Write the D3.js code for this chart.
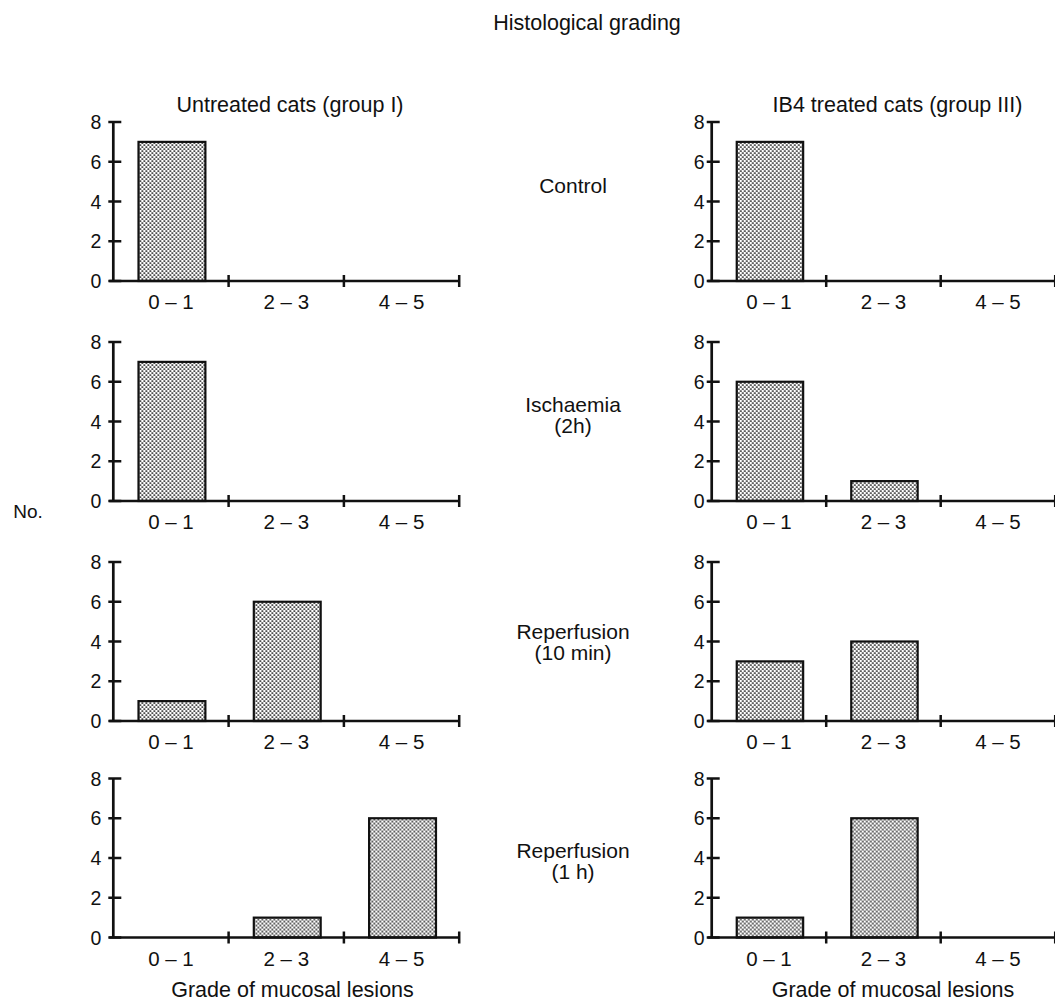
<!DOCTYPE html>
<html><head><meta charset="utf-8">
<script src="https://cdn.jsdelivr.net/npm/d3@7"></script>
<style>body{margin:0;background:#fff}svg{display:block}text{font-family:"Liberation Sans",Arial,Helvetica,sans-serif;fill:#111}</style>
</head><body>
<script>
const categories = ["0 \u2013 1", "2 \u2013 3", "4 \u2013 5"];
const yTicks = [0, 2, 4, 6, 8];
const conditions = [["Control"], ["Ischaemia", "(2h)"], ["Reperfusion", "(10 min)"], ["Reperfusion", "(1 h)"]];
const groupTitles = ["Untreated cats (group I)", "IB4 treated cats (group III)"];
const untreated = [[7, 0, 0], [7, 0, 0], [1, 6, 0], [0, 1, 6]];
const ib4treated = [[7, 0, 0], [6, 1, 0], [3, 4, 0], [1, 6, 0]];
const series = [untreated, ib4treated];

const W = 1055, H = 1005;
const svg = d3.select("body").append("svg").attr("width", W).attr("height", H);
const defs = svg.append("defs");
const pat = defs.append("pattern").attr("id", "dots").attr("patternUnits", "userSpaceOnUse")
  .attr("width", 4).attr("height", 4);
pat.append("rect").attr("width", 4).attr("height", 4).attr("fill", "#fff");
pat.append("rect").attr("x", 0.3).attr("y", 0.3).attr("width", 1.6).attr("height", 1.6).attr("fill", "#111");
pat.append("rect").attr("x", 2.3).attr("y", 2.3).attr("width", 1.6).attr("height", 1.6).attr("fill", "#111");

function label(x, y, txt, size, anchor) {
  return svg.append("text").attr("x", x).attr("y", y).attr("text-anchor", anchor || "middle")
    .attr("font-size", size).text(txt);
}

label(587, 30, "Histological grading", 21.5);

const panelX = [113.3, 711.7];
const bandW = [115.3, 114.5];
const zeroY = [281, 501, 721, 937.5];
const ph = 159;

const titleCX = [290, 897.5];
const bottomCX = [292.5, 893];
const yLabGap = [12, 7];

groupTitles.forEach((t, gi) => {
  label(titleCX[gi], 112, t, 21.5);
  label(bottomCX[gi], 997, "Grade of mucosal lesions", 21.5);
});

label(28, 518, "No.", 19);

const condY = [193, 412, 639, 858];
conditions.forEach((lines, ci) => {
  lines.forEach((l, li) => label(573, condY[ci] + li * 21, l, 21));
});

const y = d3.scaleLinear().domain([0, 8]).range([ph, 0]);

series.forEach((grp, gi) => {
  const x = d3.scaleBand().domain(categories).range([0, bandW[gi] * 3]).padding(0);
  grp.forEach((vals, ci) => {
    const g = svg.append("g").attr("transform", `translate(${panelX[gi]},${zeroY[ci] - ph})`);
    const bw = x.bandwidth() * 0.58;
    g.selectAll("rect.bar").data(vals.map((v, i) => ({c: categories[i], v})).filter(d => d.v > 0))
      .join("rect").attr("class", "bar")
      .attr("x", d => x(d.c) + (x.bandwidth() - bw) / 2 + 1)
      .attr("y", d => y(d.v))
      .attr("width", bw).attr("height", d => y(0) - y(d.v))
      .attr("fill", "url(#dots)").attr("stroke", "#111").attr("stroke-width", 2.2);
    // y axis
    g.append("line").attr("x1", 0).attr("x2", 0).attr("y1", y(8)).attr("y2", y(0)).attr("stroke", "#111").attr("stroke-width", 2.7);
    g.selectAll("line.yt").data(yTicks).join("line").attr("class", "yt")
      .attr("x1", -5).attr("x2", 8).attr("y1", d => y(d)).attr("y2", d => y(d))
      .attr("stroke", "#111").attr("stroke-width", 2.5);
    g.selectAll("text.yl").data(yTicks).join("text").attr("class", "yl")
      .attr("x", -yLabGap[gi]).attr("y", d => y(d) + 7).attr("text-anchor", "end").attr("font-size", 19.5).text(d => d);
    // x axis
    g.append("line").attr("x1", -4).attr("x2", x.range()[1]).attr("y1", y(0)).attr("y2", y(0)).attr("stroke", "#111").attr("stroke-width", 2.7);
    g.selectAll("line.xt").data(categories).join("line").attr("class", "xt")
      .attr("x1", d => x(d) + x.bandwidth()).attr("x2", d => x(d) + x.bandwidth())
      .attr("y1", y(0) - 6).attr("y2", y(0) + 6).attr("stroke", "#111").attr("stroke-width", 2.5);
    g.selectAll("text.xl").data(categories).join("text").attr("class", "xl")
      .attr("x", d => x(d) + x.bandwidth() / 2).attr("y", y(0) + 28)
      .attr("text-anchor", "middle").attr("font-size", 20.5).text(d => d);
  });
});
</script>
</body></html>
